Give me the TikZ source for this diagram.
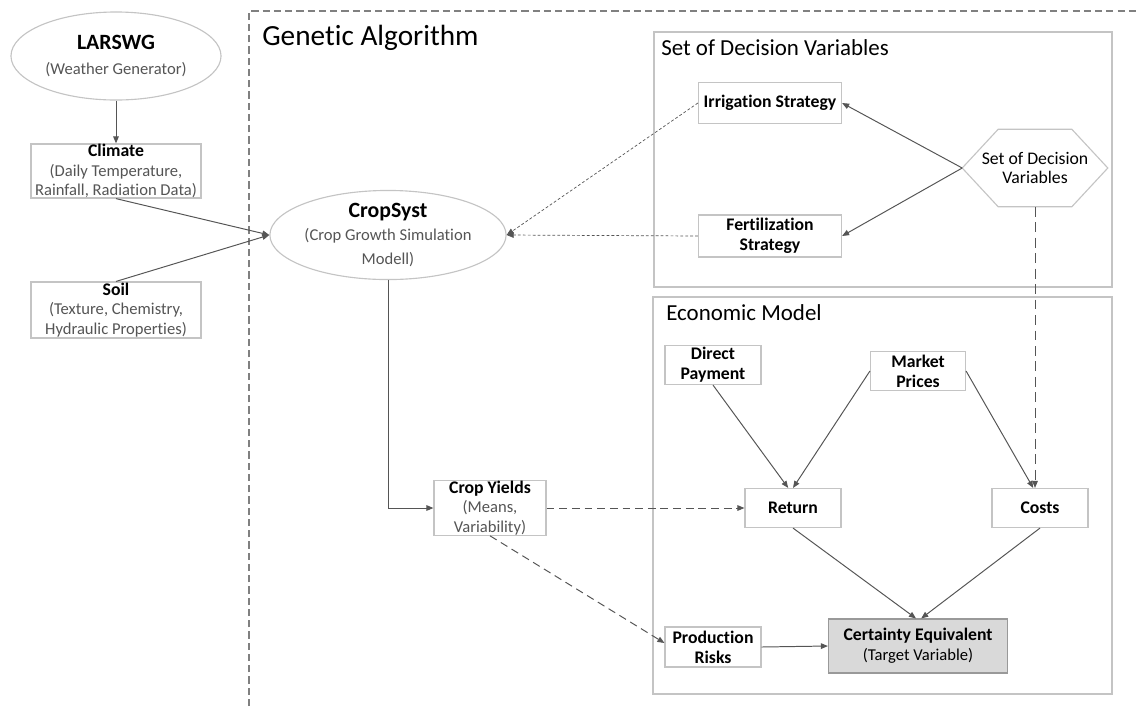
\documentclass[tikz,border=0pt]{standalone}
\usepackage{fontspec}
\setmainfont[Ligatures=NoCommon]{Carlito}
\usetikzlibrary{arrows.meta, shapes.geometric}

\definecolor{bordegris}{HTML}{C4C4C4}
\definecolor{lineagris}{HTML}{555555}
\definecolor{textogris}{HTML}{555555}
\definecolor{rellenogris}{HTML}{D9D9D9}
\newcommand{\subtx}[1]{{\mdseries\fontsize{11.8}{13}\selectfont\color{textogris}#1}}

\tikzset{
  caja/.style={draw=bordegris, line width=0.8pt, fill=white, inner sep=0pt, align=center,
    font=\fontsize{12.6}{14}\selectfont\bfseries},
  elipse/.style={ellipse, draw=bordegris, line width=0.8pt, fill=white, inner sep=0pt, align=center,
    font=\fontsize{15.5}{16}\selectfont\bfseries},
  marco/.style={draw=bordegris, line width=0.9pt},
  marcoga/.style={draw=gray, line width=1pt, dash pattern=on 5pt off 3pt},
  titulo/.style={anchor=base west, inner sep=0pt, font=\fontsize{16.3}{18}\selectfont},
  flecha/.style={draw=lineagris, line width=0.7pt, -{Triangle[length=5pt,width=4pt]}},
  flechaguion/.style={flecha, dash pattern=on 5.5pt off 3.5pt},
  flechalarga/.style={flecha, dash pattern=on 7pt off 4pt},
  flechapunto/.style={flecha, line width=0.5pt, dash pattern=on 2pt off 1.5pt},
}

\begin{document}
\begin{tikzpicture}[x=0.025cm, y=-0.025cm]
\useasboundingbox (0,0) rectangle (1137,706);

% Marco del algoritmo genético
\draw[marcoga] (249,706) -- (249,11) -- (1137,11);
\node[titulo, font=\fontsize{20.8}{22}\selectfont] (tga) at (262,45) {Genetic Algorithm};

% Marcos de los submodelos
\draw[marco] (654,32) rectangle (1112,287);
\node[titulo] (tvar) at (661,55) {Set of Decision Variables};
\draw[marco] (653,297) rectangle (1112,694);
\node[titulo] (teco) at (666,320) {Economic Model};

% Entradas del modelo de cultivo
\node[elipse, minimum width=5.25cm, minimum height=2.2cm] (larswg) at (116,56) {LARSWG\\[2pt]\subtx{(Weather Generator)}};
\node[caja, minimum width=4.25cm, minimum height=1.35cm] (clima) at (116,171) {Climate\\\subtx{(Daily Temperature,}\\\subtx{Rainfall, Radiation Data)}};
\node[caja, minimum width=4.25cm, minimum height=1.4cm] (suelo) at (116,310) {Soil\\\subtx{(Texture, Chemistry,}\\\subtx{Hydraulic Properties)}};
\node[elipse, minimum width=5.9cm, minimum height=2.2cm] (cropsyst) at (388,235) {CropSyst\\\subtx{(Crop Growth Simulation}\\[1pt]\subtx{Modell)}};
\node[caja, minimum width=2.8cm, minimum height=1.35cm] (rend) at (490,508) {Crop Yields\\\subtx{(Means,}\\\subtx{Variability)}};

% Variables de decisión
\node[caja, minimum width=3.575cm, minimum height=1.025cm] (riego) at (770,103) {Irrigation Strategy};
\node[caja, minimum width=3.575cm, minimum height=1.05cm] (fert) at (770,236) {Fertilization\\Strategy};
\node[inner sep=0pt, minimum width=3.625cm, minimum height=1.925cm, align=center,
  font=\fontsize{12.6}{14}\selectfont] (decis) at (1035,168) {Set of Decision\\Variables};
\draw[draw=bordegris, line width=0.8pt] (decis.west) -- ([xshift=0.9cm]decis.north west)
  -- ([xshift=-0.9cm]decis.north east) -- (decis.east) -- ([xshift=-0.9cm]decis.south east)
  -- ([xshift=0.9cm]decis.south west) -- cycle;

% Modelo económico
\node[caja, minimum width=2.4cm, minimum height=0.975cm] (pago) at (713,365) {Direct\\Payment};
\node[caja, minimum width=2.375cm, minimum height=0.975cm] (precio) at (918,371) {Market\\Prices};
\node[caja, minimum width=2.4cm, minimum height=0.975cm] (retorno) at (793,508) {Return};
\node[caja, minimum width=2.4cm, minimum height=0.975cm] (costos) at (1040,508) {Costs};
\node[caja, minimum width=2.4cm, minimum height=1cm] (riesgo) at (713,647) {Production\\Risks};
\node[caja, fill=rellenogris, draw=gray!80, minimum width=4.475cm, minimum height=1.35cm] (ec) at (918,646)
  {Certainty Equivalent\\{\mdseries\fontsize{11.8}{13}\selectfont (Target Variable)}};

% Conexiones
\draw[flecha] (larswg) -- (clima);
\draw[flecha] (clima.south) -- (cropsyst.west);
\draw[flecha] (suelo.north) -- (cropsyst.west);
\draw[flecha] (cropsyst.south) |- (rend.west);
\draw[flechapunto] (riego.west) -- (cropsyst.east);
\draw[flechapunto] (fert.west) -- (cropsyst.east);
\draw[flecha] (decis.west) -- (riego.east);
\draw[flecha] (decis.west) -- (fert.east);
\draw[flechalarga] (decis.south) -- (decis.south |- costos.north);
\draw[flechaguion] (rend.east) -- (retorno.west);
\draw[flechaguion] (rend.south) -- ([yshift=0.1cm]riesgo.west);
\draw[flecha] (pago.south) -- ([xshift=-0.12cm]retorno.north);
\draw[flecha] (precio.west) -- (retorno.north);
\draw[flecha] (precio.east) -- ([xshift=-0.17cm]costos.north);
\draw[flecha] (retorno.south) -- ([xshift=-0.05cm]ec.north);
\draw[flecha] (costos.south) -- ([xshift=0.08cm]ec.north);
\draw[flecha] (riesgo.east) -- (ec.west);

\end{tikzpicture}
\end{document}
